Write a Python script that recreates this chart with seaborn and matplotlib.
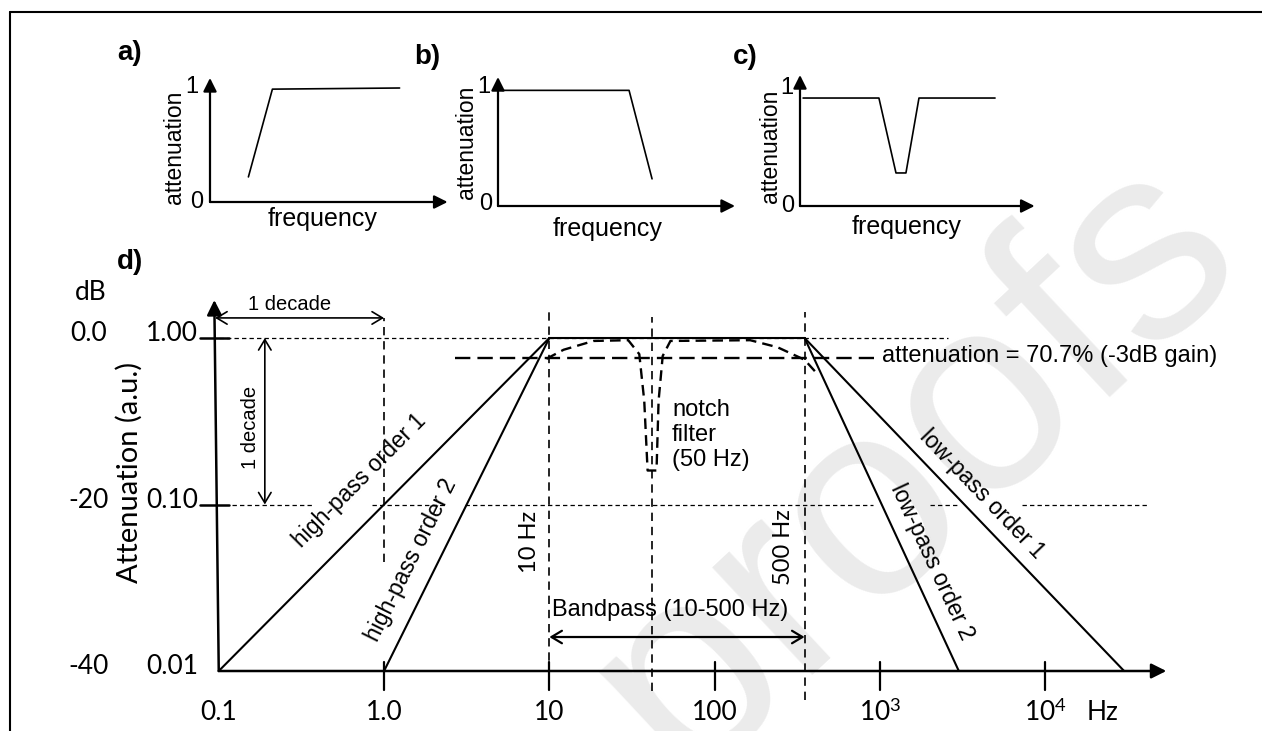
import numpy as np
import matplotlib
matplotlib.use("Agg")
import matplotlib.pyplot as plt
import seaborn as sns
from matplotlib.lines import Line2D

sns.set_theme(style="white")
plt.rcParams['font.family'] = ['Liberation Sans', 'DejaVu Sans']
plt.rcParams['text.color'] = 'black'
plt.rcParams['mathtext.fontset'] = 'custom'
plt.rcParams['mathtext.rm'] = 'Lato'
plt.rcParams['mathtext.it'] = 'Lato:italic'

# ---------------- data ----------------
# small schematic panels (normalised frequency, attenuation)
panel_a_x = [0.16, 0.26, 0.79]
panel_a_y = [0.22, 0.99, 1.00]
panel_b_x = [0.017, 0.553, 0.65]
panel_b_y = [0.98, 0.98, 0.23]
panel_c_x = [0.013, 0.333, 0.405, 0.447, 0.502, 0.823]
panel_c_y = [0.915, 0.915, 0.28, 0.28, 0.915, 0.915]

# panel d filter responses (frequency in Hz, attenuation a.u.)
hp1_f, hp1_att = [0.1, 10], [0.01, 1.0]
hp2_f, hp2_att = [1.0, 10], [0.01, 1.0]
pass_f, pass_att = [10, 350], [1.0, 1.0]
lp1_f, lp1_att = [350, 30000], [1.0, 0.01]
lp2_f, lp2_att = [350, 3000], [1.0, 0.01]
band_f = [9.6, 12.2, 18.5, 30, 35, 37.5, 39.3, 44.5, 45.8, 48.5, 54, 164, 240, 350, 408]
band_att = [0.75, 0.85, 0.96, 0.97, 0.80, 0.42, 0.16, 0.16, 0.42, 0.78, 0.96, 0.97, 0.88, 0.74, 0.625]

x_ticks = [0.1, 1.0, 10, 100, 1000, 10000]
x_tick_labels = ["0.1", "1.0", "10", "100", "10$^3$", "10$^4$"]
att_ticks = [1.0, 0.1, 0.01]
att_labels = ["1.00", "0.10", "0.01"]
db_labels = ["0.0", "-20", "-40"]
cut_low = 10          # 10 Hz cut-off
cut_high = 350        # drawn position of the 500 Hz cut-off
notch_f = 42          # drawn position of the 50 Hz notch
att_3db = 0.758       # -3 dB level

W, H = 1262, 731
fig = plt.figure(figsize=(W / 100, H / 100), dpi=100)
fig.patch.set_facecolor('white')


def P(px, py):
    return px / W, 1 - py / H


# ---------------- panel d ----------------
def fx(px):
    return 10 ** (1.5 + (px - 632) / 165.3)


def fy(py):
    return 10 ** (-(py - 338) / 166.5)


top_d = 250
ax = fig.add_axes([0, 0, 1, (H - top_d) / H])
ax.set_xscale('log')
ax.set_yscale('log')
XL = (fx(0), fx(W))
YL = (fy(H), fy(top_d))
ax.set_xlim(*XL)
ax.set_ylim(*YL)
ax.axis('off')

# watermark
fig.text(*P(915, 465), "proofs", fontsize=200, color='#ebebeb', rotation=43,
         ha='center', va='center', zorder=-1, family='Liberation Sans')

K = 'black'
kw = dict(color=K, estimator=None, sort=False, legend=False, ax=ax)
for f, a in [(hp1_f, hp1_att), (hp2_f, hp2_att), (pass_f, pass_att),
             (lp1_f, lp1_att), (lp2_f, lp2_att)]:
    sns.lineplot(x=f, y=a, lw=1.5, **kw)
sns.lineplot(x=band_f, y=band_att, lw=1.7, linestyle=(0, (4.5, 2.6)), **kw)

# guides
thin = dict(color=K, lw=0.9, ls=(0, (3.5, 2.5)))
ax.plot([0.1, 2580], [1.0, 1.0], **thin)
for f0, f1 in [(0.12, 0.373), (0.84, 2.39), (3.1, 906), (2010, 3050), (7240, 42700)]:
    ax.plot([f0, f1], [0.1, 0.1], **thin)
vdash = dict(color=K, lw=1.2, ls=(0, (5, 3.5)))
ax.plot([1.0, 1.0], [0.045, 1.32], **vdash)
ax.plot([cut_low, cut_low], [0.0078, 1.43], **vdash)
ax.plot([notch_f, notch_f], [0.0076, 1.34], **vdash)
ax.plot([cut_high, cut_high], [0.0067, 1.43], **vdash)
ax.plot([2.7, 915], [att_3db, att_3db], color=K, lw=1.7, ls=(0, (6.5, 3)))

# axes arrows
head = dict(arrowstyle='-|>,head_length=0.5,head_width=0.25', lw=1.8, color=K,
            mutation_scale=18, shrinkA=0, shrinkB=0)
ax.annotate('', xy=(54000, 0.01), xytext=(0.1, 0.01), arrowprops=head)
ax.annotate('', xy=(0.094, 1.69), xytext=(0.1, 0.01), arrowprops=head)
for f in x_ticks[1:]:
    ax.plot([f, f], [0.0113, 0.0077], color=K, lw=1.6)
for a in att_ticks[:2]:
    ax.plot([0.077, 0.115], [a, a], color=K, lw=1.8)

dbl = dict(arrowstyle='<->,head_length=0.5,head_width=0.3', lw=1.2, color=K,
           mutation_scale=15, shrinkA=0, shrinkB=0)
ax.annotate('', xy=(1.0, 1.32), xytext=(0.095, 1.32), arrowprops=dbl)
ax.annotate('', xy=(0.19, 0.1), xytext=(0.19, 1.0), arrowprops=dbl)
dbl2 = dict(dbl, lw=1.6)
ax.annotate('', xy=(cut_high, 0.016), xytext=(cut_low, 0.016), arrowprops=dbl2)

# tick labels
LATO = 'Lato'
for f, lab in zip(x_ticks, x_tick_labels):
    ax.text(f, fy(712), lab, ha='center', va='center', fontsize=19, family=LATO)
ax.text(fx(1103), fy(712), "Hz", ha='center', va='center', fontsize=19, family=LATO)
for a, lab, db in zip(att_ticks, att_labels, db_labels):
    ax.annotate(lab, xy=(fx(198), a), xytext=(0, 3), textcoords='offset points',
                ha='right', va='center', fontsize=19, family=LATO)
    ax.annotate(db, xy=(fx(89), a), xytext=(0, 3), textcoords='offset points',
                ha='center', va='center', fontsize=19, family=LATO)
ax.text(fx(91), fy(293), "dB", ha='center', va='center', fontsize=19, family=LATO)
ax.text(fx(129), fy(472), "Attenuation (a.u.)", rotation=90, ha='center', va='center',
        fontsize=21, family=LATO)

ax.text(fx(290), fy(304), "1 decade", ha='center', va='center', fontsize=14.5)
ax.text(fx(250), fy(427), "1 decade", rotation=90, ha='center', va='center', fontsize=14.5)
ax.text(fx(530), fy(542), "10 Hz", rotation=90, ha='center', va='center', fontsize=17, family=LATO)
ax.text(fx(783), fy(547), "500 Hz", rotation=90, ha='center', va='center', fontsize=17, family=LATO)
ax.text(fx(670), fy(610), "Bandpass (10-500 Hz)", ha='center', va='center', fontsize=17)
ax.text(fx(672), fy(435), "notch\nfilter\n(50 Hz)", ha='left', va='center', fontsize=17,
        linespacing=1.2)
ax.text(fx(882), fy(356), "attenuation = 70.7% (-3dB gain)", ha='left', va='center', fontsize=17)


def line_label(f0, a0, f1, a1, t, off, text):
    p0 = ax.transData.transform((f0, a0))
    p1 = ax.transData.transform((f1, a1))
    d = p1 - p0
    ang = np.degrees(np.arctan2(d[1], d[0]))
    u = d / np.hypot(*d)
    n = np.array([-u[1], u[0]])
    if n[1] < 0:
        n = -n
    pos = p0 + t * d + n * off
    xy = ax.transData.inverted().transform(pos)
    ax.text(xy[0], xy[1], text, rotation=ang, rotation_mode='anchor',
            ha='center', va='center', fontsize=16.5)


line_label(hp1_f[0], hp1_att[0], hp1_f[1], hp1_att[1], 0.50, 34, "high-pass order 1")
line_label(hp2_f[0], hp2_att[0], hp2_f[1], hp2_att[1], 0.30, 25, "high-pass order 2")
line_label(lp1_f[0], lp1_att[0], lp1_f[1], lp1_att[1], 0.51, 20, "low-pass order 1")
line_label(lp2_f[0], lp2_att[0], lp2_f[1], lp2_att[1], 0.70, 21, "low-pass order 2")

ax.set_xlim(*XL)
ax.set_ylim(*YL)


# ---------------- panels a, b, c ----------------
def small_panel(ox, oy, ux, uy, x0, x1, xs, ys, xtip, ytip, one_pos, zero_pos,
                att_pos, freq_pos, letter, letter_pos):
    y0, y1 = 25, 250
    a = fig.add_axes([x0 / W, 1 - y1 / H, (x1 - x0) / W, (y1 - y0) / H])
    a.set_xlim((x0 - ox) / ux, (x1 - ox) / ux)
    a.set_ylim((oy - y1) / uy, (oy - y0) / uy)
    a.axis('off')
    sns.lineplot(x=xs, y=ys, ax=a, color=K, lw=1.2, estimator=None, sort=False, legend=False)
    hd = dict(arrowstyle='-|>,head_length=0.5,head_width=0.25', lw=1.6, color=K,
              mutation_scale=16, shrinkA=0, shrinkB=0)
    a.annotate('', xy=(0, ytip), xytext=(0, 0), arrowprops=hd)
    a.annotate('', xy=(xtip, 0), xytext=(0, 0), arrowprops=hd)
    a.set_xlim((x0 - ox) / ux, (x1 - ox) / ux)
    a.set_ylim((oy - y1) / uy, (oy - y0) / uy)
    fig.text(*P(*one_pos), "1", ha='center', va='center', fontsize=17)
    fig.text(*P(*zero_pos), "0", ha='center', va='center', fontsize=17)
    fig.text(*P(*att_pos), "attenuation", rotation=90, ha='center', va='center', fontsize=16.5)
    fig.text(*P(*freq_pos), "frequency", ha='center', va='center', fontsize=18)
    fig.text(*P(*letter_pos), letter, ha='center', va='center', fontsize=20, weight='bold')


small_panel(210, 202, 240, 114, 100, 460, panel_a_x, panel_a_y, 0.99, 1.088,
            (192, 87), (197, 202), (175, 147), (323, 219), "a)", (130, 53))
small_panel(498, 206, 237, 118, 420, 745, panel_b_x, panel_b_y, 1.0, 1.093,
            (484, 87), (486, 204), (467, 142), (608, 229), "b)", (427, 57))
small_panel(800, 206, 237, 118, 730, 1045, panel_c_x, panel_c_y, 0.99, 1.11,
            (787, 88), (788, 206), (770, 146), (907, 227), "c)", (745, 57))

fig.text(*P(130, 262), "d)", ha='center', va='center', fontsize=20, weight='bold')

# frame
fig.add_artist(Line2D([10 / W, 10 / W], [0, 1 - 12 / H], color=K, lw=1.5, transform=fig.transFigure))
fig.add_artist(Line2D([10 / W, 1], [1 - 12 / H, 1 - 12 / H], color=K, lw=1.5, transform=fig.transFigure))

fig.savefig("out.png", dpi=100, facecolor='white')
